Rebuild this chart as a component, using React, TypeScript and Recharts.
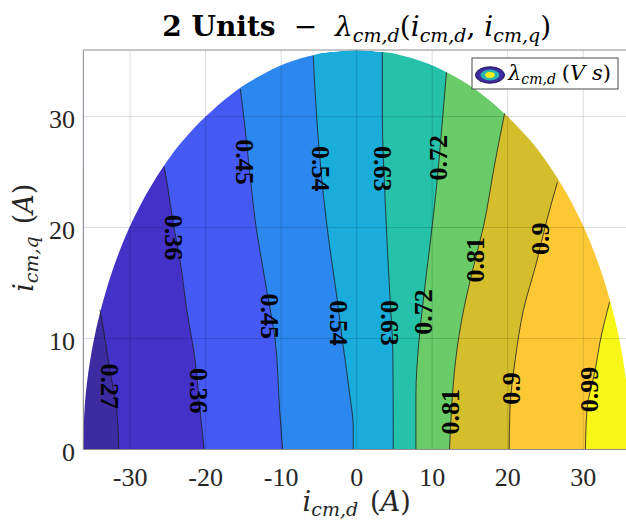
import React from 'react'
import {
  Area,
  ComposedChart,
  Customized,
  Label,
  Line,
  ReferenceDot,
  ReferenceLine,
  XAxis,
  YAxis,
} from 'recharts'

const serif = '"Liberation Serif", "DejaVu Serif", serif'
const mathSerif = '"DejaVu Serif", "Liberation Serif", serif'
const EDGE = 36.2
const TOP = 36

const xTicks = [-30, -20, -10, 0, 10, 20, 30]
const yTicks = [0, 10, 20, 30]

// filled bands, lowest level first (parula)
const bandColors = [
  '#3d2ca1',
  '#4331c8',
  '#4559f4',
  '#2c88ef',
  '#1aacdb',
  '#26c1a9',
  '#69cc69',
  '#d4be2b',
  '#fcc934',
  '#f8f619',
]

// contour lines, points (y = i_cm,q, x = i_cm,d)
const c027 = [
  { y: 0, x: -31.5 },
  { y: 3.6, x: -31.8 },
  { y: 7.2, x: -32.7 },
  { y: 11.1, x: -33.6 },
  { y: 12.6, x: -34.0 },
]
const c036 = [
  { y: 0, x: -20.2 },
  { y: 3.6, x: -20.75 },
  { y: 8.1, x: -21.4 },
  { y: 12.6, x: -22.5 },
  { y: 17.1, x: -23.4 },
  { y: 20, x: -24.2 },
  { y: 24, x: -25.1 },
  { y: 25.5, x: -25.5 },
]
const c045 = [
  { y: 0, x: -9.8 },
  { y: 3.6, x: -10.2 },
  { y: 9.9, x: -10.8 },
  { y: 14.3, x: -11.9 },
  { y: 17.1, x: -12.6 },
  { y: 19.5, x: -13.2 },
  { y: 24.6, x: -14.1 },
  { y: 29.1, x: -14.8 },
  { y: 32.5, x: -15.4 },
]
const c054 = [
  { y: 0, x: -0.45 },
  { y: 2, x: -0.45 },
  { y: 4.9, x: -0.9 },
  { y: 9.4, x: -1.8 },
  { y: 13.9, x: -2.65 },
  { y: 18.4, x: -3.6 },
  { y: 22.9, x: -4.4 },
  { y: 30, x: -5.3 },
  { y: 35.5, x: -5.75 },
]
const c063 = [
  { y: 0, x: 4.85 },
  { y: 8.5, x: 4.8 },
  { y: 13.9, x: 4.4 },
  { y: 18.4, x: 4.05 },
  { y: 22.9, x: 3.75 },
  { y: 30, x: 3.4 },
  { y: 35.8, x: 3.4 },
]
const c072 = [
  { y: 0, x: 7.85 },
  { y: 4.9, x: 7.85 },
  { y: 9.4, x: 8.2 },
  { y: 13.3, x: 8.8 },
  { y: 18.4, x: 9.7 },
  { y: 23.8, x: 10.6 },
  { y: 30, x: 11.4 },
  { y: 34, x: 11.9 },
]
const c081 = [
  { y: 0, x: 12.3 },
  { y: 4, x: 12.6 },
  { y: 8, x: 13.1 },
  { y: 12, x: 14.0 },
  { y: 16, x: 15.3 },
  { y: 20.1, x: 16.8 },
  { y: 25.8, x: 18.3 },
  { y: 30.3, x: 19.6 },
]
const c090 = [
  { y: 0, x: 20.2 },
  { y: 3.6, x: 20.3 },
  { y: 8.1, x: 21.0 },
  { y: 12.6, x: 22.1 },
  { y: 16.8, x: 23.8 },
  { y: 20.7, x: 25.2 },
  { y: 24.1, x: 26.6 },
]
const c099 = [
  { y: 0, x: 30.3 },
  { y: 3.6, x: 30.5 },
  { y: 7.2, x: 31.6 },
  { y: 9.6, x: 32.2 },
  { y: 13.3, x: 33.5 },
]

const contours = [c027, c036, c045, c054, c063, c072, c081, c090, c099]

// half width of the operating region at each y
const boundary = [
  { y: 0, w: 36.2 },
  { y: 4, w: 36.0 },
  { y: 8, w: 35.3 },
  { y: 12, w: 34.1 },
  { y: 16, w: 32.4 },
  { y: 20, w: 30.1 },
  { y: 24, w: 27.0 },
  { y: 28, w: 22.8 },
  { y: 30, w: 20.0 },
  { y: 32, w: 16.6 },
  { y: 33, w: 14.5 },
  { y: 34, w: 11.9 },
  { y: 35, w: 8.5 },
  { y: 35.5, w: 6.0 },
  { y: 35.8, w: 3.8 },
  { y: 36, w: 0 },
]

// inline contour labels
const labels = [
  { text: '0.27', x: -32.7, y: 5.7 },
  { text: '0.36', x: -21.0, y: 5.3 },
  { text: '0.36', x: -24.3, y: 19.1 },
  { text: '0.45', x: -11.5, y: 12.0 },
  { text: '0.45', x: -14.8, y: 25.9 },
  { text: '0.54', x: -2.4, y: 11.4 },
  { text: '0.54', x: -4.8, y: 25.3 },
  { text: '0.63', x: 4.3, y: 11.4 },
  { text: '0.63', x: 3.45, y: 25.3 },
  { text: '0.72', x: 8.8, y: 12.4 },
  { text: '0.72', x: 10.8, y: 26.3 },
  { text: '0.81', x: 12.4, y: 3.4 },
  { text: '0.81', x: 15.7, y: 17.1 },
  { text: '0.9', x: 20.5, y: 5.5 },
  { text: '0.9', x: 24.3, y: 19.0 },
  { text: '0.99', x: 30.8, y: 5.4 },
]

const baseData = boundary.map((p) => ({ y: p.y, v: [-p.w, p.w] }))
const leftMask = boundary.map((p) => ({ y: p.y, v: [-EDGE, -p.w] }))
const rightMask = boundary.map((p) => ({ y: p.y, v: [p.w, EDGE] }))
const leftOf = (c: { y: number; x: number }[]) => c.map((p) => ({ y: p.y, v: [-EDGE, p.x] }))
const rightOf = (c: { y: number; x: number }[]) => c.map((p) => ({ y: p.y, v: [p.x, EDGE] }))

const XTick = ({ x, y, payload }: any) => (
  <text x={x} y={y + 36} textAnchor="middle" fontFamily={serif} fontSize={26} fill="#262626">
    {payload.value}
  </text>
)

const YTick = ({ x, y, payload }: any) => (
  <text x={x - 8.3} y={y + 11.5} textAnchor="end" fontFamily={serif} fontSize={26} fill="#262626">
    {payload.value}
  </text>
)

const XLabel = ({ viewBox }: any) => (
  <text
    x={viewBox.x + viewBox.width / 2}
    y={viewBox.y + 61.5}
    textAnchor="middle"
    fontFamily={mathSerif}
    fontSize={27}
    fill="#262626"
  >
    <tspan fontStyle="italic">i</tspan>
    <tspan fontStyle="italic" fontSize={19} dy={5}>cm,d</tspan>
    <tspan dy={-5} dx={12}>(</tspan>
    <tspan fontStyle="italic">A</tspan>
    <tspan>)</tspan>
  </text>
)

const YLabel = ({ viewBox }: any) => {
  const cx = viewBox.x + 10
  const cy = viewBox.y + viewBox.height / 2 - 12
  return (
    <text
      x={cx}
      y={cy}
      transform={`rotate(-90 ${cx} ${cy})`}
      textAnchor="middle"
      fontFamily={mathSerif}
      fontSize={27}
      fill="#262626"
    >
      <tspan fontStyle="italic">i</tspan>
      <tspan fontStyle="italic" fontSize={19} dy={5}>cm,q</tspan>
      <tspan dy={-5} dx={12}>(</tspan>
      <tspan fontStyle="italic">A</tspan>
      <tspan>)</tspan>
    </text>
  )
}

const ContourLabel = ({ cx, cy, text, x }: any) => {
  const angle = x < 6 ? 90 : -90
  return (
    <text
      x={cx}
      y={cy}
      transform={`rotate(${angle} ${cx} ${cy})`}
      textAnchor="middle"
      dominantBaseline="central"
      fontFamily={serif}
      fontWeight="bold"
      fontSize={26}
      fill="#000"
    >
      {text}
    </text>
  )
}

const Title = () => (
  <text x={356.7} y={36} textAnchor="middle" fontFamily={mathSerif} fontSize={28} fill="#000">
    <tspan fontWeight="bold">2 Units</tspan>
    <tspan dx={18}>−</tspan>
    <tspan dx={18} fontStyle="italic">λ</tspan>
    <tspan fontStyle="italic" fontSize={19} dy={6}>cm,d</tspan>
    <tspan dy={-6}>(</tspan>
    <tspan fontStyle="italic">i</tspan>
    <tspan fontStyle="italic" fontSize={19} dy={6}>cm,d</tspan>
    <tspan dy={-6}>, </tspan>
    <tspan fontStyle="italic">i</tspan>
    <tspan fontStyle="italic" fontSize={19} dy={6}>cm,q</tspan>
    <tspan dy={-6}>)</tspan>
  </text>
)

const LegendBox = () => (
  <svg
    width={626}
    height={531}
    style={{ position: 'absolute', left: 0, top: 0, pointerEvents: 'none' }}
  >
    <rect x={472} y={58} width={146} height={31} fill="#fff" stroke="#4d4d4d" strokeWidth={1} />
    <ellipse cx={490} cy={75} rx={14.5} ry={8.2} fill={bandColors[0]} stroke="#1c1450" strokeWidth={1} />
    <ellipse cx={490} cy={75} rx={9.5} ry={5.4} fill="#27b5b0" />
    <ellipse cx={490} cy={75} rx={4.8} ry={2.9} fill="#f7ee1f" />
    <text x={508} y={80} fontFamily={mathSerif} fontSize={21} fill="#000">
      <tspan fontStyle="italic">λ</tspan>
      <tspan fontStyle="italic" fontSize={14} dy={4}>cm,d</tspan>
      <tspan dy={-4} dx={6}>(</tspan>
      <tspan fontStyle="italic">V s</tspan>
      <tspan>)</tspan>
    </text>
  </svg>
)

export default function App() {
  return (
    <div
      style={{
        position: 'absolute',
        left: 0,
        top: 0,
        width: 626,
        height: 531,
        overflow: 'hidden',
        background: '#fff',
      }}
    >
      <ComposedChart
        width={640}
        height={531}
        layout="vertical"
        margin={{ top: 50, right: 10, bottom: 51.5, left: 23.3 }}
      >
        <XAxis
          type="number"
          domain={[-EDGE, EDGE]}
          allowDataOverflow
          ticks={xTicks}
          tick={<XTick />}
          tickLine={false}
          tickSize={0}
          tickMargin={0}
          height={30}
          axisLine={{ stroke: '#8c8c8c' }}
        >
          <Label content={XLabel} />
        </XAxis>
        <YAxis
          type="number"
          dataKey="y"
          domain={[0, TOP]}
          reversed
          allowDataOverflow
          ticks={yTicks}
          tick={<YTick />}
          tickLine={false}
          tickSize={0}
          tickMargin={0}
          width={60}
          axisLine={{ stroke: '#8c8c8c' }}
        >
          <Label content={YLabel} />
        </YAxis>

        <Area
          data={baseData}
          dataKey="v"
          type="monotone"
          fill={bandColors[4]}
          fillOpacity={1}
          stroke="none"
          isAnimationActive={false}
        />
        {[3, 2, 1, 0].map((k) => (
          <Area
            key={`l${k}`}
            data={leftOf(contours[k])}
            dataKey="v"
            type="monotone"
            fill={bandColors[k]}
            fillOpacity={1}
            stroke="none"
            isAnimationActive={false}
          />
        ))}
        {[4, 5, 6, 7, 8].map((k) => (
          <Area
            key={`r${k}`}
            data={rightOf(contours[k])}
            dataKey="v"
            type="monotone"
            fill={bandColors[k + 1]}
            fillOpacity={1}
            stroke="none"
            isAnimationActive={false}
          />
        ))}
        <Area data={leftMask} dataKey="v" type="monotone" fill="#fff" fillOpacity={1} stroke="none" isAnimationActive={false} />
        <Area data={rightMask} dataKey="v" type="monotone" fill="#fff" fillOpacity={1} stroke="none" isAnimationActive={false} />

        {contours.map((c, i) => (
          <Line
            key={`c${i}`}
            data={c}
            dataKey="x"
            type="monotone"
            stroke="#1e1e1e"
            strokeWidth={0.8}
            dot={false}
            isAnimationActive={false}
          />
        ))}

        {xTicks.map((t) => (
          <ReferenceLine key={`gx${t}`} x={t} stroke="#000" strokeOpacity={0.14} />
        ))}
        {yTicks.map((t) => (
          <ReferenceLine key={`gy${t}`} y={t} stroke="#000" strokeOpacity={0.14} />
        ))}
        <ReferenceLine y={TOP} stroke="#8c8c8c" />
        <ReferenceLine x={EDGE} stroke="#8c8c8c" />

        {labels.map((l, i) => (
          <ReferenceDot
            key={`lab${i}`}
            x={l.x}
            y={l.y}
            r={0}
            shape={(p: any) => <ContourLabel cx={p.cx} cy={p.cy} text={l.text} x={l.x} />}
          />
        ))}

        <Customized component={Title} />
      </ComposedChart>
      <LegendBox />
    </div>
  )
}
